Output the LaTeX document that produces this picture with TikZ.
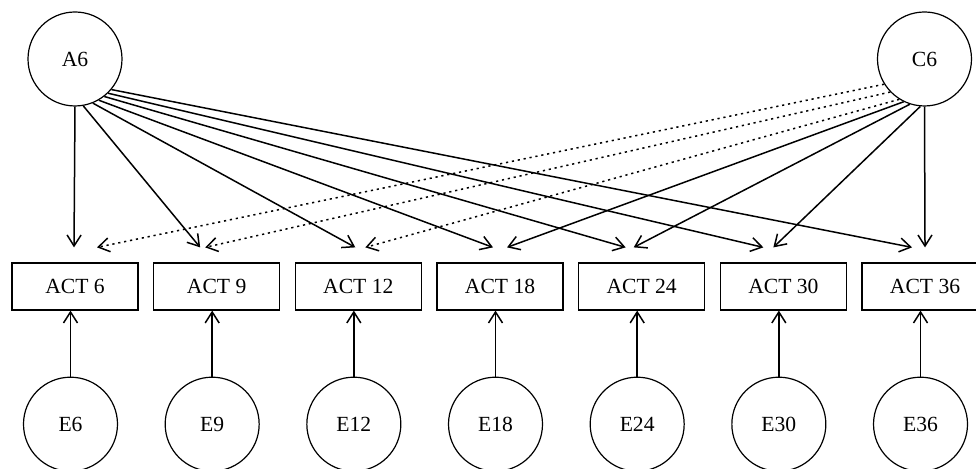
\documentclass[tikz,border=0pt]{standalone}
\usepackage{tikz}
\usetikzlibrary{arrows.meta,positioning}
\usepackage{fontspec}
\setmainfont{Liberation Serif}
\tikzset{
  lat/.style={circle,draw,line width=0.6pt,minimum size=47pt,inner sep=0pt,
    font=\fontsize{10.8}{12}\selectfont},
  obs/.style={rectangle,draw,line width=0.6pt,minimum width=63pt,minimum height=23.5pt,
    inner sep=0pt,font=\fontsize{10.8}{12}\selectfont},
  arr/.style={-{Straight Barb[length=5.5pt,width=7pt]},line width=0.75pt},
  corr/.style={arr,dash pattern=on 1.1pt off 1.9pt}
}

\begin{document}
\begin{tikzpicture}[x=0.5pt,y=0.5pt]
  \useasboundingbox (0,0) rectangle (976,469);
  \node[lat] (A6) at (75,410) {A6};
  \node[lat] (C6) at (924.5,410) {C6};
  % indicators and their errors
  \foreach \n [count=\i from 0] in {6,9,12,18,24,30,36} {
    \node[obs] (act\n) at (75+141.67*\i,182.5) {ACT \n};
    \node[lat,below=33pt of act\n,xshift=-2.25pt] (e\n) {E\n};
    \draw[arr] (e\n) -- (e\n |- act\n.south);
  }
  % loadings of A6
  \foreach \n/\a/\d in {6/-90/-1,9/-80/-16.5,12/-68/-3,18/-60/-7,24/-52/-16,30/-46/-20,36/-40/-13}
    \draw[arr] (A6.\a) -- ([shift={(\d,15)}]act\n.north);
  % loadings of C6
  \foreach \n/\a/\d in {18/-116/7,24/-108/-8,30/-95/-10,36/-90/0}
    \draw[arr] (C6.\a) -- ([shift={(\d,15)}]act\n.north);
  \foreach \n/\a/\d in {6/-148/22,9/-136/-11.5,12/-122/7}
    \draw[corr] (C6.\a) -- ([shift={(\d,15)}]act\n.north);
\end{tikzpicture}
\end{document}
